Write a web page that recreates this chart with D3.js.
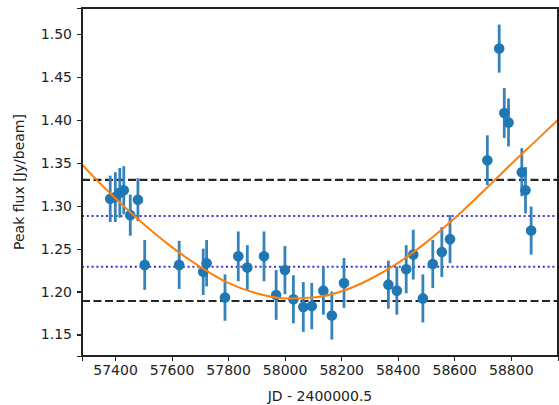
<!DOCTYPE html>
<html lang="en">
<head>
<meta charset="utf-8">
<title>Peak flux vs JD</title>
<script src="https://cdn.jsdelivr.net/npm/d3@7"></script>
<style>
  body { margin: 0; background: #fff; }
  svg text { font-family: "DejaVu Sans", sans-serif; fill: #222; }
  .axis path, .axis line { stroke: #222; stroke-width: 1.1; shape-rendering: crispEdges; }
  .axis text { font-size: 14px; }
</style>
</head>
<body>
<div id="chart"></div>
<script>
// observations (JD - 2400000.5), peak flux and 1-sigma errors
var jd = [57383, 57401, 57417, 57431, 57454, 57481, 57505, 57627, 57712, 57724,
          57789, 57836, 57868, 57927, 57970, 58001, 58031, 58066, 58096, 58137,
          58167, 58210, 58367, 58397, 58430, 58455, 58489, 58524, 58556, 58585,
          58717, 58759, 58777, 58792, 58839, 58852, 58872];
var flux = [1.308, 1.310, 1.315, 1.318, 1.289, 1.307, 1.231, 1.231, 1.223, 1.233,
            1.193, 1.241, 1.228, 1.241, 1.196, 1.225, 1.191, 1.182, 1.183, 1.201,
            1.172, 1.210, 1.208, 1.201, 1.226, 1.243, 1.192, 1.232, 1.246, 1.261,
            1.353, 1.483, 1.408, 1.397, 1.339, 1.318, 1.271];
var fluxErr = [0.027, 0.029, 0.029, 0.028, 0.024, 0.025, 0.029, 0.028, 0.027, 0.027,
               0.027, 0.029, 0.026, 0.029, 0.029, 0.028, 0.028, 0.029, 0.027, 0.028,
               0.028, 0.029, 0.028, 0.028, 0.028, 0.029, 0.028, 0.028, 0.029, 0.028,
               0.029, 0.028, 0.029, 0.028, 0.028, 0.027, 0.028];

// fitted curve
var fitJd = [57283, 57300, 57400, 57500, 57600, 57700, 57800, 57900, 58000, 58100,
             58200, 58300, 58400, 58500, 58600, 58700, 58800, 58900, 58967];
var fitFlux = [1.348, 1.342, 1.309, 1.279, 1.252, 1.229, 1.210, 1.198, 1.192, 1.193,
               1.200, 1.214, 1.233, 1.257, 1.285, 1.316, 1.348, 1.379, 1.400];

// horizontal reference levels
var dashedLevels = [1.330, 1.189];
var dottedLevels = [1.288, 1.229];

var xTicks = [57400, 57600, 57800, 58000, 58200, 58400, 58600, 58800];
var yTicks = [1.15, 1.20, 1.25, 1.30, 1.35, 1.40, 1.45, 1.50];

var W = 559, H = 405;
var margin = {top: 8, right: 1, bottom: 49, left: 82};
var width = W - margin.left - margin.right,
    height = H - margin.top - margin.bottom;

var svg = d3.select("#chart").append("svg")
    .attr("width", W).attr("height", H);

var chart = svg.append("g")
    .attr("transform", "translate(" + margin.left + "," + margin.top + ")");

var x = d3.scaleLinear().domain([57283.2, 58967]).range([0, width]);
var y = d3.scaleLinear().domain([1.1249, 1.5303]).range([height, 0]);

chart.append("clipPath").attr("id", "clip")
    .append("rect").attr("width", width).attr("height", height);

var plot = chart.append("g").attr("clip-path", "url(#clip)");

// reference lines
plot.selectAll(".dash").data(dashedLevels).enter().append("line")
    .attr("x1", 0).attr("x2", width)
    .attr("y1", function(d) { return y(d); })
    .attr("y2", function(d) { return y(d); })
    .attr("stroke", "#262626").attr("stroke-width", 2.2)
    .attr("stroke-dasharray", "8,3.5");

plot.selectAll(".dot").data(dottedLevels).enter().append("line")
    .attr("x1", 0).attr("x2", width)
    .attr("y1", function(d) { return y(d); })
    .attr("y2", function(d) { return y(d); })
    .attr("stroke", "#3535d8").attr("stroke-width", 2)
    .attr("stroke-dasharray", "2,2.8");

// error bars + points
var idx = d3.range(jd.length);
plot.selectAll(".err").data(idx).enter().append("line")
    .attr("x1", function(i) { return x(jd[i]); })
    .attr("x2", function(i) { return x(jd[i]); })
    .attr("y1", function(i) { return y(flux[i] - fluxErr[i]); })
    .attr("y2", function(i) { return y(flux[i] + fluxErr[i]); })
    .attr("stroke", "#3683bb").attr("stroke-width", 2.8);

plot.selectAll(".pt").data(idx).enter().append("circle")
    .attr("cx", function(i) { return x(jd[i]); })
    .attr("cy", function(i) { return y(flux[i]); })
    .attr("r", 5.3)
    .attr("fill", "#1f77b4");

// fit curve
var line = d3.line()
    .x(function(i) { return x(fitJd[i]); })
    .y(function(i) { return y(fitFlux[i]); })
    .curve(d3.curveMonotoneX);

plot.append("path")
    .datum(d3.range(fitJd.length))
    .attr("d", line)
    .attr("fill", "none")
    .attr("stroke", "#ff7f0e")
    .attr("stroke-width", 2);

// axes
chart.append("g").attr("class", "x axis")
    .attr("transform", "translate(0," + height + ")")
    .call(d3.axisBottom(x).tickValues(xTicks).tickSize(5).tickPadding(4).tickFormat(d3.format("d")));

chart.append("g").attr("class", "y axis")
    .call(d3.axisLeft(y).tickValues(yTicks).tickSize(5).tickPadding(5).tickFormat(d3.format(".2f")));

// frame
chart.append("rect")
    .attr("width", width).attr("height", height)
    .attr("fill", "none").attr("stroke", "#222").attr("stroke-width", 1.1)
    .attr("shape-rendering", "crispEdges");

// labels
svg.append("text")
    .attr("x", margin.left + width / 2).attr("y", 401)
    .attr("text-anchor", "middle").attr("font-size", 14)
    .text("JD - 2400000.5");

svg.append("text")
    .attr("transform", "translate(24," + (margin.top + height / 2) + ") rotate(-90)")
    .attr("text-anchor", "middle").attr("font-size", 14)
    .text("Peak flux [Jy/beam]");
</script>
</body>
</html>
